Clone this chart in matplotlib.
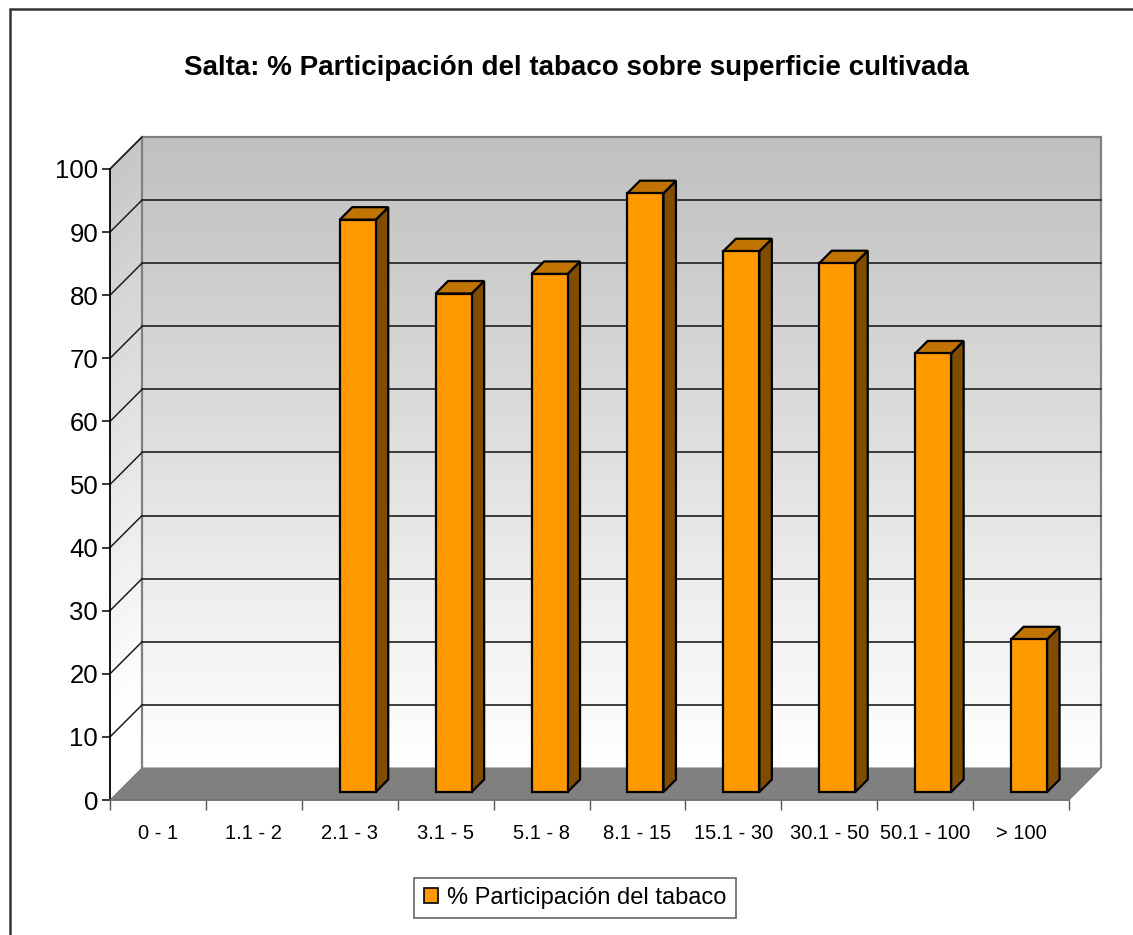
import numpy as np
import matplotlib
matplotlib.use("Agg")
import matplotlib.pyplot as plt
from matplotlib.patches import Polygon, Rectangle, Patch
from matplotlib.collections import PolyCollection

plt.rcParams["font.family"] = ["Liberation Sans", "DejaVu Sans"]

title = "Salta: % Participación del tabaco sobre superficie cultivada"
categories = ["0 - 1", "1.1 - 2", "2.1 - 3", "3.1 - 5", "5.1 - 8", "8.1 - 15",
              "15.1 - 30", "30.1 - 50", "50.1 - 100", "> 100"]
values = [np.nan, np.nan, 90.7, 79.0, 82.1, 94.9, 85.7, 83.8, 69.5, 24.2]
series_name = "% Participación del tabaco"
yticks = np.arange(0, 101, 10)

W, H = 1133, 935
fig = plt.figure(figsize=(W / 100, H / 100), dpi=100)
fig.patch.set_facecolor("white")

# axes = front plane of the 3D box
x0_px, x1_px, y0_px, y1_px = 110, 1069, 800, 169
ax = fig.add_axes([x0_px / W, 1 - y0_px / H, (x1_px - x0_px) / W, (y0_px - y1_px) / H])
ncat = len(categories)
ax.set_xlim(0, ncat)
ax.set_ylim(0, 100)
ax.patch.set_visible(False)

# depth of the box in data units (32 px right/up)
px_per_cat = (x1_px - x0_px) / ncat
px_per_val = (y0_px - y1_px) / 100
DX = 32 / px_per_cat
DY = 32 / px_per_val

# gradient walls
def shade(v):
    g = 1.0 - 0.25 * (v / 100.0)
    return (g, g, g)

levels = np.linspace(0, 100, 101)
back, side, cols = [], [], []
for a, b in zip(levels[:-1], levels[1:]):
    back.append([(DX, a + DY), (ncat + DX, a + DY), (ncat + DX, b + DY), (DX, b + DY)])
    side.append([(0, a), (DX, a + DY), (DX, b + DY), (0, b)])
    cols.append(shade((a + b) / 2))
ax.add_collection(PolyCollection(back, facecolors=cols, edgecolors=cols, linewidths=0.5,
                                 clip_on=False, zorder=1))
side_cols = [tuple(min(1, c + 0.03) for c in col) for col in cols]
ax.add_collection(PolyCollection(side, facecolors=side_cols, edgecolors=side_cols, linewidths=0.5,
                                 clip_on=False, zorder=1))

# wall outlines
ax.add_patch(Polygon([(DX, DY), (DX, 100 + DY), (ncat + DX, 100 + DY), (ncat + DX, DY)],
                     closed=False, fill=False, edgecolor="#808080", lw=1.6, clip_on=False, zorder=2))
ax.plot([0, DX], [100, 100 + DY], color="#808080", lw=1.4, clip_on=False, zorder=2)

# floor
ax.add_patch(Polygon([(0, 0), (ncat, 0), (ncat + DX, DY), (DX, DY)], closed=True,
                     facecolor="#808080", edgecolor="#808080", lw=0.8, clip_on=False, zorder=2))

# gridlines
for v in yticks[1:-1]:
    ax.plot([DX, ncat + DX], [v + DY, v + DY], color="#202020", lw=1.2, clip_on=False, zorder=2)
for v in yticks[1:]:
    ax.plot([0, DX], [v, v + DY], color="#202020", lw=1.1, clip_on=False, zorder=2)

# bars
bw = 36 / px_per_cat
f0, f1 = 8 / 32, 20.5 / 32
for i, v in enumerate(values):
    if np.isnan(v):
        continue
    xl = i + 0.5 - bw / 2 + f0 * DX
    xr = xl + bw
    yb = f0 * DY
    yt = yb + v
    ddx = (f1 - f0) * DX
    ddy = (f1 - f0) * DY
    kw = dict(closed=True, edgecolor="black", lw=1.6, clip_on=False, zorder=3, joinstyle="miter")
    ax.add_patch(Polygon([(xr, yb), (xr + ddx, yb + ddy), (xr + ddx, yt + ddy), (xr, yt)],
                         facecolor="#7F4C00", **kw))
    ax.add_patch(Polygon([(xl, yt), (xr, yt), (xr + ddx, yt + ddy), (xl + ddx, yt + ddy)],
                         facecolor="#C07300", **kw))
    ax.add_patch(Polygon([(xl, yb), (xr, yb), (xr, yt), (xl, yt)],
                         facecolor="#FF9900", **kw))

# axes styling
for s in ["top", "right"]:
    ax.spines[s].set_visible(False)
ax.spines["left"].set_color("black")
ax.spines["left"].set_linewidth(1.3)
ax.spines["bottom"].set_color("#707070")
ax.spines["bottom"].set_linewidth(1.3)
ax.spines["left"].set_zorder(4)
ax.spines["bottom"].set_zorder(4)

ax.set_yticks(yticks)
ax.set_yticklabels([str(t) for t in yticks])
ax.tick_params(axis="y", direction="out", length=6, width=1.1, pad=2.5, labelsize=18.5)

ax.set_xticks(np.arange(0, ncat + 1))
ax.set_xticklabels([])
ax.tick_params(axis="x", which="major", direction="out", length=7.5, width=1.0, color="#555555")
ax.set_xticks(np.arange(ncat) + 0.5, minor=True)
ax.set_xticklabels(categories, minor=True)
ax.tick_params(axis="x", which="minor", length=0, pad=17, labelsize=14.5)

# title
fig.text(576 / W, 1 - 68 / H, title, ha="center", va="center", fontsize=20, fontweight="bold")

# legend
handle = Patch(facecolor="#FF9900", edgecolor="black", linewidth=1.2)
leg = fig.legend([handle], [series_name], loc="center", bbox_to_anchor=(575 / W, 1 - 898 / H),
                 fontsize=17, frameon=True, fancybox=False, handlelength=0.6, handleheight=0.6,
                 handletextpad=0.4, borderpad=0.4, borderaxespad=0)
leg.get_frame().set_edgecolor("#404040")
leg.get_frame().set_linewidth(1.2)

# outer chart border
fig.add_artist(Rectangle((10 / W, -0.05), 1.1, 1.05 - 9 / H, transform=fig.transFigure,
                         fill=False, edgecolor="#333333", lw=1.8))

fig.savefig("out.png", dpi=100)
